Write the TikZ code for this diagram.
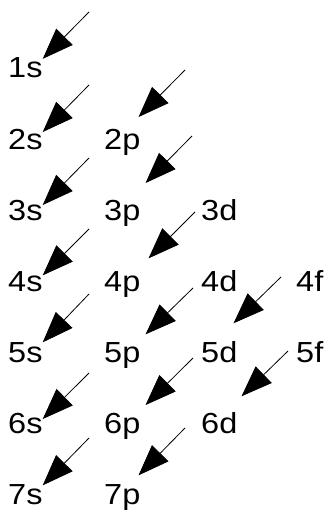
\documentclass[tikz,border=0pt]{standalone}
\usepackage{fontspec}
\setmainfont{Liberation Sans}[FakeStretch=1.12]
\usepackage{tikz}
\usetikzlibrary{arrows.meta, positioning}

\begin{document}
\begin{tikzpicture}[
                x=1pt, y=-1pt,
                orbital/.style={anchor=base west, inner sep=0pt, font=\fontsize{29}{29}\selectfont},
                fill arrow/.style={line width=0.8pt, -{Triangle[length=31pt, width=23pt]}}
            ]
            \useasboundingbox (0,0) rectangle (326,510);

            % Orbitale
            \node[orbital] (s1) at (8,78) {1s};
            \node[orbital] (s2) at (8,149.5) {2s};
            \node[orbital] (s3) at (8,220.5) {3s};
            \node[orbital] (s4) at (8,291.5) {4s};
            \node[orbital] (s5) at (8,362.5) {5s};
            \node[orbital] (s6) at (8,433.5) {6s};
            \node[orbital] (s7) at (8,504.5) {7s};

            \node[orbital] (p2) at (104,149.5) {2p};
            \node[orbital] (p3) at (104,220.5) {3p};
            \node[orbital] (p4) at (104,291.5) {4p};
            \node[orbital] (p5) at (104,362.5) {5p};
            \node[orbital] (p6) at (104,433.5) {6p};
            \node[orbital] (p7) at (104,504.5) {7p};

            \node[orbital] (d3) at (201,220.5) {3d};
            \node[orbital] (d4) at (201,291.5) {4d};
            \node[orbital] (d5) at (201,362.5) {5d};
            \node[orbital] (d6) at (201,433.5) {6d};

            \node[orbital] (f4) at (296,291.5) {4f};
            \node[orbital] (f5) at (296,362.5) {5f};

            % Startpunkte der Pfeile
            \coordinate (a1s) at (89,12);
            \coordinate (a2s) at (89,85);
            \coordinate (a3s) at (89,158);
            \coordinate (a4s) at (89,229);
            \coordinate (a5s) at (89,294);
            \coordinate (a6s) at (89,373);
            \coordinate (a7s) at (89,438);
            \coordinate (a2p) at (185,70);
            \coordinate (a3p) at (192,136);
            \coordinate (a4p) at (195,212);
            \coordinate (a5p) at (193,288);
            \coordinate (a6p) at (193,358);
            \coordinate (a7p) at (185,428);
            \coordinate (a5d) at (281,277);
            \coordinate (a6d) at (288,351);

            % Pfeile
            \draw[fill arrow] (a1s) -- ([shift={(0,1)}]s1.north east);
            \draw[fill arrow] (a2s) -- ([shift={(0,3)}]s2.north east);
            \draw[fill arrow] (a3s) -- ([shift={(0,5)}]s3.north east);
            \draw[fill arrow] (a4s) -- ([shift={(0,4)}]s4.north east);
            \draw[fill arrow] (a5s) -- ([shift={(0,0)}]s5.north east);
            \draw[fill arrow] (a6s) -- ([shift={(0,6)}]s6.north east);
            \draw[fill arrow] (a7s) -- ([shift={(0,1)}]s7.north east);

            \draw[fill arrow] (a2p) -- ([shift={(-2,-12)}]p2.north east);
            \draw[fill arrow] (a3p) -- ([shift={(5,-17)}]p3.north east);
            \draw[fill arrow] (a4p) -- ([shift={(8,-13)}]p4.north east);
            \draw[fill arrow] (a5p) -- ([shift={(5,-8)}]p5.north east);
            \draw[fill arrow] (a6p) -- ([shift={(5,-8)}]p6.north east);
            \draw[fill arrow] (a7p) -- ([shift={(-2,-9)}]p7.north east);

            \draw[fill arrow] (a5d) -- ([shift={(-4,-18)}]d5.north east);
            \draw[fill arrow] (a6d) -- ([shift={(4,-16)}]d6.north east);

        \end{tikzpicture}
\end{document}
